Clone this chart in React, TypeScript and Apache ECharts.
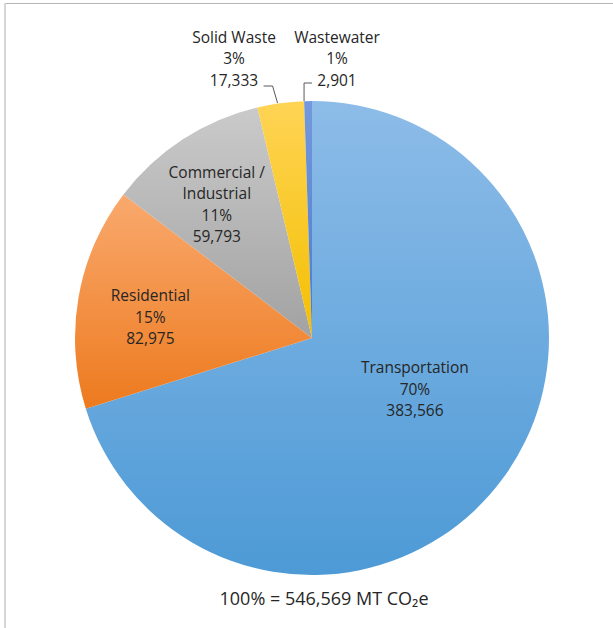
import React, { useEffect, useRef } from 'react';
import * as echarts from 'echarts';

const categories = ['Transportation', 'Residential', 'Commercial / Industrial', 'Solid Waste', 'Wastewater'];
const values = [383566, 82975, 59793, 17333, 2901];
const totalText = '100% = 546,569 MT CO\u2082e';

// styling
const gradients = [
  ['#8dbce8', '#4d9ad6'],
  ['#f9a96e', '#ed7a1e'],
  ['#cacaca', '#a2a2a2'],
  ['#ffd455', '#f3bf00'],
  ['#7499dc', '#4a7acf'],
];
const insideShift: Record<number, [number, number]> = { 0: [5, -21], 1: [-42, 0], 2: [-29, -32] };
const outsidePos: Record<number, [number, number]> = { 3: [234, 58], 4: [337, 58] };

export default function App() {
  const ref = useRef<HTMLDivElement>(null);
  useEffect(() => {
    document.body.style.margin = '0';
    const chart = echarts.init(ref.current!, null, { renderer: 'svg' });
    const font = 'Open Sans';
    const data = categories.map((name, i) => ({
      name,
      value: values[i],
      itemStyle: {
        color: new echarts.graphic.LinearGradient(0, 0, 0, 1, [
          { offset: 0, color: gradients[i][0] },
          { offset: 1, color: gradients[i][1] },
        ]),
      },
      label: i >= 3 ? { position: 'outside' as const } : { position: 'inside' as const },
      labelLine: i >= 3 ? { show: true } : { show: false },
    }));
    chart.setOption({
      animation: false,
      backgroundColor: '#fff',
      title: {
        text: totalText,
        left: 319,
        textAlign: 'center',
        top: 584,
        textStyle: { fontFamily: font, fontSize: 18, fontWeight: 'normal', color: '#262626' },
      },
      graphic: [
        { type: 'line', shape: { x1: 4, y1: 3.5, x2: 613, y2: 3.5 }, style: { stroke: '#b5b5b5', lineWidth: 1 } },
        { type: 'line', shape: { x1: 5, y1: 3, x2: 5, y2: 628 }, style: { stroke: '#d6d6d6', lineWidth: 2 } },
      ],
      series: [
        {
          type: 'pie',
          center: [312, 338],
          radius: 237,
          startAngle: 90,
          clockwise: true,
          data,
          label: {
            fontFamily: font,
            fontSize: 15.5,
            lineHeight: 21.5,
            color: '#262626',
            align: 'center',
            formatter: (p: any) =>
              `${String(p.name).replace(' / ', ' /\n')}\n${Math.round(p.percent)}%\n${Number(p.value).toLocaleString('en-US')}`,
          },
          labelLine: { lineStyle: { color: '#595959', width: 1 }, length: 8, length2: 8 },
          labelLayout: (params: any) => {
            const i = params.dataIndex;
            if (insideShift[i]) return { dx: insideShift[i][0], dy: insideShift[i][1] };
            if (outsidePos[i]) {
              const p0 = params.labelLinePoints ? params.labelLinePoints[0] : null;
              const res: any = { x: outsidePos[i][0], y: outsidePos[i][1], align: 'center', verticalAlign: 'middle' };
              if (p0) {
                if (i === 3) {
                  res.labelLinePoints = [[p0[0] - 3, p0[1]], [p0[0] - 8, 86], [p0[0] - 17, 86]];
                } else {
                  res.labelLinePoints = [[p0[0] - 4, p0[1]], [p0[0] - 4, 83], [p0[0] + 4, 83]];
                }
              }
              return res;
            }
            return {};
          },
        },
      ],
    });
    return () => chart.dispose();
  }, []);
  return <div ref={ref} style={{ width: 613, height: 628 }} />;
}
